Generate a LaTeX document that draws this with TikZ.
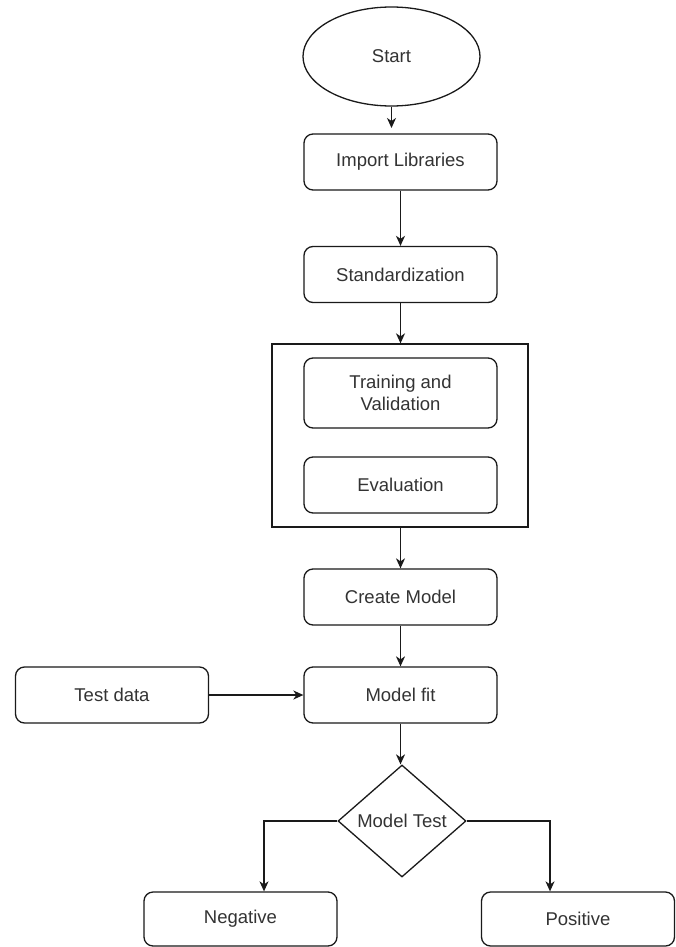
\documentclass[tikz,border=0pt]{standalone}
\usepackage{fontspec}
\setmainfont{Liberation Sans}
\usetikzlibrary{shapes.geometric,arrows.meta}
\definecolor{txt}{HTML}{333333}
\definecolor{ln}{HTML}{1A1A1A}
\tikzset{
  lbl/.style={text=txt,font=\fontsize{18.5}{21.5}\selectfont},
  box/.style={lbl,draw=ln,line width=1.3pt,rounded corners=9pt,minimum width=193pt,minimum height=56pt,inner sep=0pt,align=center},
  conn/.style={draw=ln,line width=1.3pt,-{Stealth[length=10pt,width=9pt,inset=3pt]}}
}
\begin{document}
\begin{tikzpicture}[x=1pt,y=-1pt]
\useasboundingbox[fill=white] (0,0) rectangle (676,947);
\node[lbl,draw=ln,line width=1.3pt,ellipse,minimum width=177pt,minimum height=99pt,inner sep=0pt] (start) at (391.5,56.5) {Start};
\node[box] (imp) at (400.5,162) {Import Libraries};
\node[box] (std) at (400.5,274.5) {Standardization};
\node[draw=ln,line width=1.3pt,minimum width=256pt,minimum height=183pt,inner sep=0pt] (grp) at (400,435.5) {};
\node[box,minimum height=70pt] (train) at (400.5,393) {Training and\\Validation};
\node[box] (eval) at (400.5,485) {Evaluation};
\node[box] (create) at (400.5,597) {Create Model};
\node[box] (fit) at (400.5,695) {Model fit};
\node[box] (test) at (112,695) {Test data};
\node[lbl,draw=ln,line width=1.3pt,diamond,minimum width=128pt,minimum height=112pt,inner sep=0pt] (dec) at (402,821) {\makebox[0pt]{Model Test}};
\node[box,minimum height=54pt] (neg) at (240.5,919) {Negative};
\node[box,minimum height=54pt] (pos) at (578,919) {Positive};
\coordinate (nl) at (264,821);
\coordinate (pr) at (550,821);
\coordinate (st) at (391.5,128);
\draw[conn] (start.south) -- (st);
\draw[conn] (imp) -- (std);
\draw[conn] (std) -- (grp.north -| std.south);
\draw[conn] (grp.south -| create.north) -- (create);
\draw[conn] (create) -- (fit);
\draw[conn] (test) -- (fit);
\draw[conn] (fit.south) -- (fit.south |- dec.north);
\draw[conn] (dec.west) -- (nl) -- (nl |- neg.north);
\draw[conn] (dec.east) -- (pr) -- (pr |- pos.north);
\end{tikzpicture}
\end{document}
